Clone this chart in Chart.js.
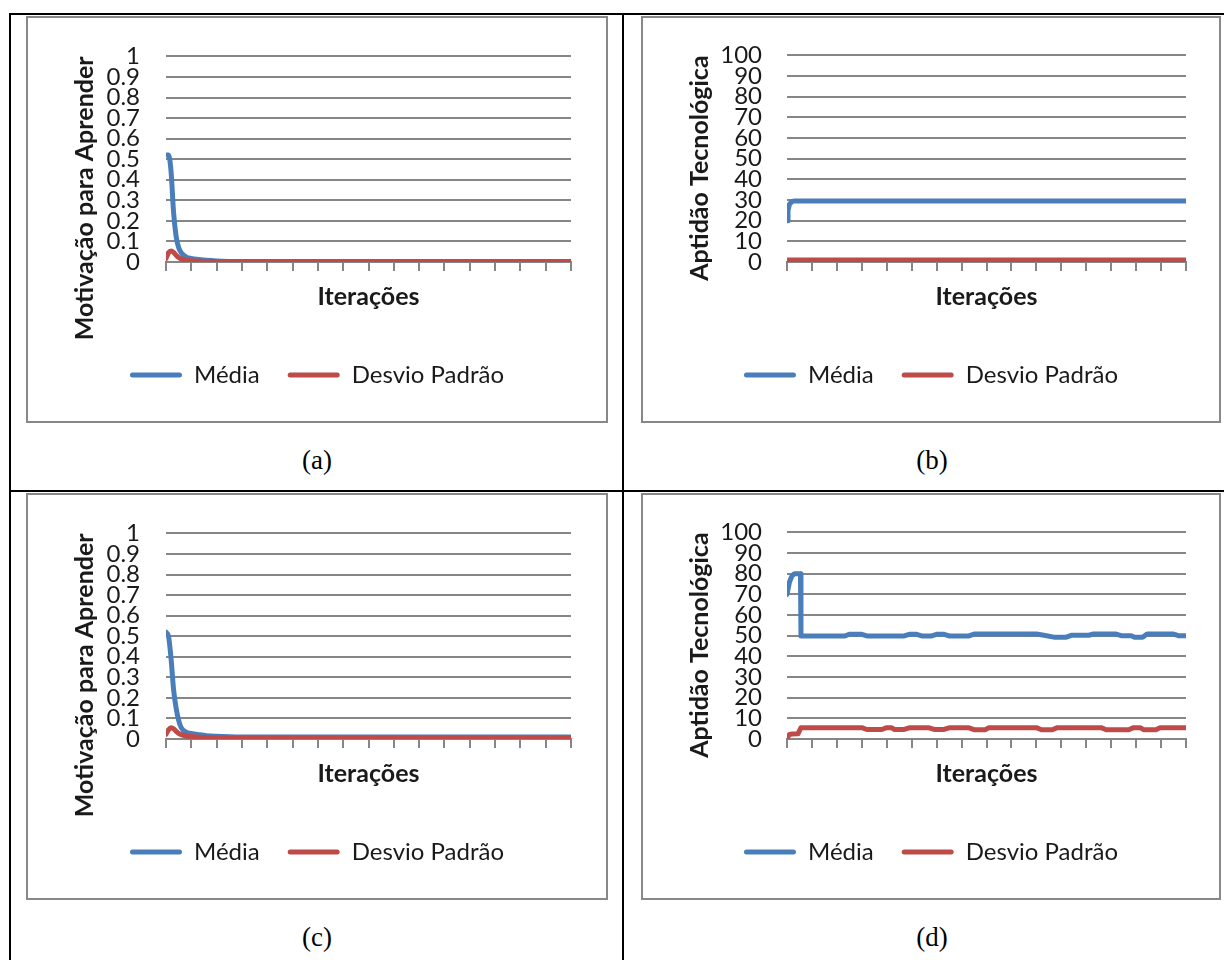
<!DOCTYPE html>
<html><head><meta charset="utf-8">
<script src="https://cdn.jsdelivr.net/npm/chart.js@4.4.1/dist/chart.umd.min.js"></script>
<style>
html,body{margin:0;padding:0;background:#fff;}
body{width:1224px;height:960px;position:relative;overflow:hidden;}
.bl{position:absolute;background:#000;}
.box{position:absolute;border:2px solid #888;box-sizing:border-box;}
canvas{position:absolute;}
.cap{position:absolute;font-family:"Liberation Serif","Times New Roman",serif;font-size:27px;color:#000;transform:translate(-50%,-50%);white-space:nowrap;line-height:1;}
</style></head><body>
<div class="bl" style="left:9px;top:13px;width:1215px;height:2px"></div>
<div class="bl" style="left:9px;top:13px;width:2px;height:947px"></div>
<div class="bl" style="left:622px;top:13px;width:2px;height:947px"></div>
<div class="bl" style="left:9px;top:490px;width:1215px;height:2px"></div>

<div class="box" style="left:26px;top:16px;width:582px;height:407px"></div>
<canvas id="cA" width="582" height="407" style="left:26px;top:16px"></canvas>
<div class="box" style="left:641px;top:16px;width:580px;height:407px"></div>
<canvas id="cB" width="580" height="407" style="left:641px;top:16px"></canvas>
<div class="box" style="left:26px;top:493px;width:582px;height:407px"></div>
<canvas id="cC" width="582" height="407" style="left:26px;top:493px"></canvas>
<div class="box" style="left:641px;top:493px;width:580px;height:407px"></div>
<canvas id="cD" width="580" height="407" style="left:641px;top:493px"></canvas>

<div class="cap" style="left:317px;top:460px">(a)</div>
<div class="cap" style="left:932px;top:460px">(b)</div>
<div class="cap" style="left:317px;top:937px">(c)</div>
<div class="cap" style="left:932px;top:937px">(d)</div>

<script>
// ---- data ----
const seriesNames = ['Média', 'Desvio Padrão'];
const xTitle = 'Iterações';
const yTitleMot = 'Motivação para Aprender';
const yTitleApt = 'Aptidão Tecnológica';
const yLabelsMot = ['0','0.1','0.2','0.3','0.4','0.5','0.6','0.7','0.8','0.9','1'];
const yLabelsApt = ['0','10','20','30','40','50','60','70','80','90','100'];

// (a)
const iterA   = [0, 5, 10, 15, 20, 25, 30, 40, 50, 65, 80, 100, 125, 150, 800];
const mediaA  = [0.52, 0.52, 0.44, 0.24, 0.125, 0.07, 0.045, 0.024, 0.017, 0.012, 0.008, 0.005, 0.003, 0.002, 0.002];
const desvioA = [0.017, 0.045, 0.053, 0.047, 0.033, 0.022, 0.015, 0.009, 0.006, 0.004, 0.003, 0.002, 0.002, 0.002, 0.002];

// (b)
const iterB   = [0, 2, 5, 10, 15, 800];
const mediaB  = [20, 25, 28, 29.3, 29.5, 29.5];
const desvioB = [1, 1, 1, 1, 1, 1];

// (c)
const iterC   = [0, 5, 10, 15, 20, 25, 30, 40, 50, 65, 80, 100, 125, 150, 800];
const mediaC  = [0.52, 0.50, 0.39, 0.24, 0.15, 0.09, 0.055, 0.033, 0.027, 0.021, 0.016, 0.013, 0.011, 0.01, 0.01];
const desvioC = [0.023, 0.045, 0.055, 0.05, 0.037, 0.027, 0.021, 0.015, 0.012, 0.009, 0.007, 0.006, 0.005, 0.005, 0.005];

// (d)
const iterDm  = [0, 5, 10, 15, 25, 27, 28, 115, 125, 150, 160, 235, 245, 260, 270, 290, 300, 315, 325, 365, 375, 500, 515, 535, 560, 570, 605, 615, 660, 670, 690, 697, 713, 722, 775, 785, 800];
const mediaD  = [70, 76, 79, 80, 80, 80, 49.8, 49.8, 50.7, 50.7, 49.9, 49.9, 50.7, 50.7, 49.9, 49.9, 50.7, 50.7, 49.9, 49.9, 50.8, 50.8, 50.2, 49.3, 49.3, 50.2, 50.2, 50.8, 50.8, 50.0, 50.0, 49.2, 49.2, 50.8, 50.8, 50.0, 50.0];
const iterDd  = [0, 5, 10, 22, 28, 150, 160, 190, 200, 210, 215, 235, 245, 285, 295, 315, 325, 365, 375, 398, 405, 500, 510, 532, 542, 630, 640, 685, 695, 708, 715, 740, 748, 800];
const desvioD = [0.3, 2.2, 2.4, 2.5, 5.5, 5.5, 4.6, 4.6, 5.5, 5.5, 4.6, 4.6, 5.4, 5.4, 4.6, 4.6, 5.4, 5.4, 4.5, 4.5, 5.5, 5.5, 4.5, 4.5, 5.5, 5.5, 4.5, 4.5, 5.5, 5.5, 4.5, 4.5, 5.5, 5.5];

// ---- styling ----
const BLUE = '#4a7ebb';
const RED = '#be4b48';
const GRID = '#868686';
const TXT = '#1a1a1a';

function pts(xs, ys) { return xs.map((x, i) => ({x: x, y: ys[i]})); }

function build(id, cfg) {
  const ds = [
    {label: seriesNames[0], data: pts(cfg.mx, cfg.my), borderColor: BLUE, backgroundColor: BLUE,
     borderWidth: 5, pointRadius: 0, order: 1, tension: 0,
     cubicInterpolationMode: cfg.mono ? 'monotone' : 'default',
     borderJoinStyle: 'round', borderCapStyle: 'round'},
    {label: seriesNames[1], data: pts(cfg.dx, cfg.dy), borderColor: RED, backgroundColor: RED,
     borderWidth: 5, pointRadius: 0, order: 0, tension: 0,
     cubicInterpolationMode: cfg.mono ? 'monotone' : 'default',
     borderJoinStyle: 'round', borderCapStyle: 'round'}
  ];
  return new Chart(document.getElementById(id), {
    type: 'line',
    data: {datasets: ds},
    options: {
      responsive: false, animation: false, devicePixelRatio: 1,
      layout: {padding: {top: 34, left: 0, right: 0, bottom: 26}},
      plugins: {
        tooltip: {enabled: false},
        legend: {
          position: 'bottom', align: 'center',
          labels: {
            boxWidth: 52, boxHeight: 5, padding: 28, color: TXT,
            font: {size: 24},
            generateLabels: chart => chart.data.datasets.map((d, i) => ({
              text: d.label, fillStyle: d.borderColor, strokeStyle: d.borderColor,
              lineWidth: 0, borderRadius: 2.5, datasetIndex: i, hidden: false, fontColor: TXT
            }))
          }
        }
      },
      scales: {
        x: {
          type: 'linear', min: 0, max: 800, position: 'bottom',
          ticks: {display: false, stepSize: 50},
          grid: {drawOnChartArea: false, drawTicks: true, tickLength: 9, color: GRID, lineWidth: 2},
          border: {display: true, color: GRID, width: 2},
          title: {display: true, text: xTitle, color: TXT, font: {size: 25, weight: 'bold'}, padding: {top: 0, bottom: 23}},
          afterFit: s => { s.height = 73; }
        },
        y: {
          type: 'linear', min: 0, max: cfg.ymax, position: 'left',
          ticks: {stepSize: cfg.step, padding: cfg.tickPad, color: TXT, font: {size: 24},
                  autoSkip: false, callback: (v, i) => cfg.labels[i]},
          grid: {drawTicks: false, color: GRID, lineWidth: 2},
          border: {display: false},
          title: {display: true, text: cfg.title, align: 'end', color: TXT,
                  font: {size: 25, weight: 'bold'}, padding: {top: 44, bottom: 0}},
          afterFit: s => { s.width = cfg.yw; }
        },
        yR: {
          type: 'linear', position: 'right', display: true, min: 0, max: 1,
          ticks: {display: false}, grid: {display: false}, border: {display: false},
          afterFit: s => { s.width = cfg.rw; }
        }
      }
    }
  });
}

function go() {
  Chart.defaults.font.family = 'Lato, "Open Sans", sans-serif';
  Chart.defaults.color = TXT;
  build('cA', {mx: iterA, my: mediaA, dx: iterA, dy: desvioA, ymax: 1, step: 0.1, labels: yLabelsMot,
               title: yTitleMot, yw: 140, rw: 37, tickPad: 26, mono: true});
  build('cB', {mx: iterB, my: mediaB, dx: iterB, dy: desvioB, ymax: 100, step: 10, labels: yLabelsApt,
               title: yTitleApt, yw: 146, rw: 35, tickPad: 25, mono: false});
  build('cC', {mx: iterC, my: mediaC, dx: iterC, dy: desvioC, ymax: 1, step: 0.1, labels: yLabelsMot,
               title: yTitleMot, yw: 140, rw: 37, tickPad: 26, mono: true});
  build('cD', {mx: iterDm, my: mediaD, dx: iterDd, dy: desvioD, ymax: 100, step: 10, labels: yLabelsApt,
               title: yTitleApt, yw: 146, rw: 35, tickPad: 25, mono: false});
}

if (document.fonts && document.fonts.load) {
  Promise.all([document.fonts.load('24px Lato'), document.fonts.load('bold 25px Lato')])
    .then(go, go);
} else { go(); }
</script>
</body></html>
